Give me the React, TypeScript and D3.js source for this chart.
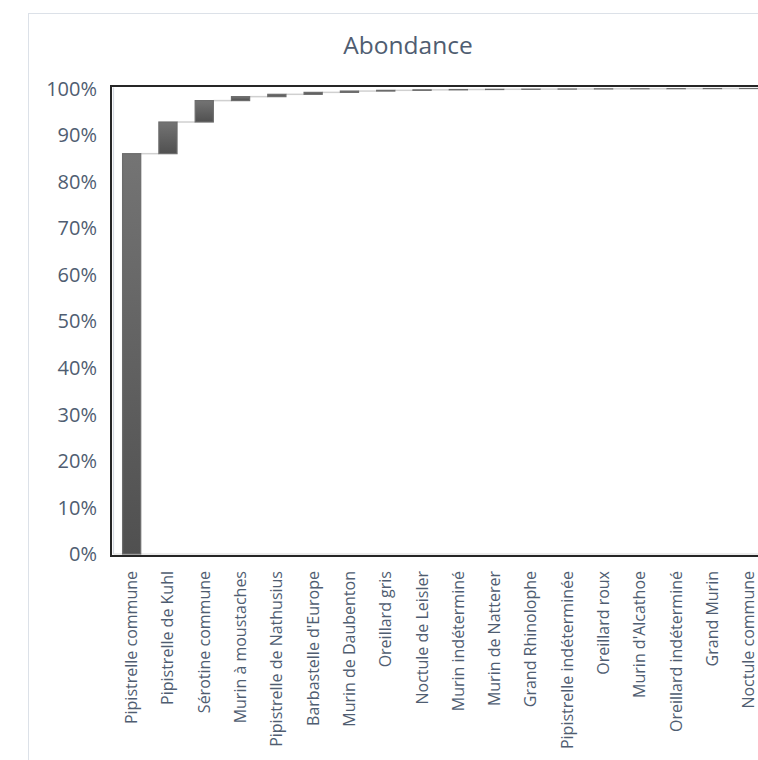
import React from "react";
import * as d3 from "d3";

// Species, in descending order of share
const species: string[] = [
  "Pipistrelle commune",
  "Pipistrelle de Kuhl",
  "Sérotine commune",
  "Murin à moustaches",
  "Pipistrelle de Nathusius",
  "Barbastelle d'Europe",
  "Murin de Daubenton",
  "Oreillard gris",
  "Noctule de Leisler",
  "Murin indéterminé",
  "Murin de Natterer",
  "Grand Rhinolophe",
  "Pipistrelle indéterminée",
  "Oreillard roux",
  "Murin d'Alcathoe",
  "Oreillard indéterminé",
  "Grand Murin",
  "Noctule commune",
];

// Share of each species in the total abundance (%)
const shares: number[] = [
  86.0, 6.8, 4.6, 0.85, 0.5, 0.42, 0.28, 0.16, 0.1, 0.07, 0.05, 0.04, 0.03,
  0.03, 0.02, 0.02, 0.02, 0.01,
];

const yTicks: number[] = [0, 10, 20, 30, 40, 50, 60, 70, 80, 90, 100];

const W = 758;
const H = 760;
const FONT = "'Open Sans', 'Noto Sans', sans-serif";
const TEXT = "#4F5D71";

const plotLeft = 113.5;
const step = 36.3;
const y0 = 554;
const y100 = 88.5;

export default function App() {
  const x = d3
    .scaleBand<string>()
    .domain(species)
    .range([plotLeft, plotLeft + step * species.length])
    .paddingInner(0.5)
    .paddingOuter(0.25);

  const y = d3.scaleLinear().domain([0, 100]).range([y0, y100]);

  // cumulative start / end of each waterfall step
  let acc = 0;
  const steps = species.map((name, i) => {
    const start = acc;
    acc += shares[i];
    return { name, start, end: acc };
  });

  const bw = x.bandwidth();

  return (
    <svg
      width={W}
      height={H}
      style={{ position: "fixed", left: 0, top: 0, background: "#fff" }}
    >
      <defs>
        <linearGradient id="barFill" x1="0" y1="0" x2="0" y2="1">
          <stop offset="0%" stopColor="#747474" />
          <stop offset="100%" stopColor="#505050" />
        </linearGradient>
      </defs>

      {/* chart area frame */}
      <rect
        x={28.5}
        y={13.5}
        width={W + 40}
        height={H + 40}
        fill="#fff"
        stroke="#DCE1E8"
        strokeWidth={1}
      />

      <text
        x={408}
        y={54}
        textAnchor="middle"
        fontFamily={FONT}
        fontSize={24.5}
        fill={TEXT}
      >
        Abondance
      </text>

      {/* plot area frame */}
      <rect
        x={111}
        y={86}
        width={W}
        height={470}
        fill="#fff"
        stroke="#262626"
        strokeWidth={2}
      />

      {/* value axis line and category axis line */}
      <line x1={113.5} x2={113.5} y1={87.5} y2={y0} stroke="#D5DAE2" strokeWidth={1.2} />
      <line x1={113.5} x2={W + 20} y1={y0} y2={y0} stroke="#D9D9D9" strokeWidth={1.2} />

      {yTicks.map((t) => (
        <text
          key={t}
          x={97}
          y={y(t)}
          dy="0.36em"
          textAnchor="end"
          fontFamily={FONT}
          fontSize={20}
          fill={TEXT}
        >
          {t}%
        </text>
      ))}

      {/* connectors between consecutive steps */}
      {steps.slice(0, -1).map((s, i) => {
        const nx = x(steps[i + 1].name)!;
        return (
          <line
            key={"c" + i}
            x1={x(s.name)! + bw}
            x2={nx}
            y1={y(s.end)}
            y2={y(s.end)}
            stroke="#D0D0D0"
            strokeWidth={1.5}
          />
        );
      })}

      {/* waterfall bars */}
      {steps.map((s) => (
        <rect
          key={s.name}
          x={x(s.name)!}
          y={y(s.end)}
          width={bw}
          height={y(s.start) - y(s.end)}
          fill="url(#barFill)"
          stroke="#6C6C6C"
          strokeWidth={1.2}
        />
      ))}

      {species.map((name) => {
        const cx = x(name)! + bw / 2 + 5.5;
        return (
          <text
            key={name}
            transform={`translate(${cx},571) rotate(-90)`}
            textAnchor="end"
            fontFamily={FONT}
            fontSize={16}
            fill={TEXT}
          >
            {name}
          </text>
        );
      })}
    </svg>
  );
}
